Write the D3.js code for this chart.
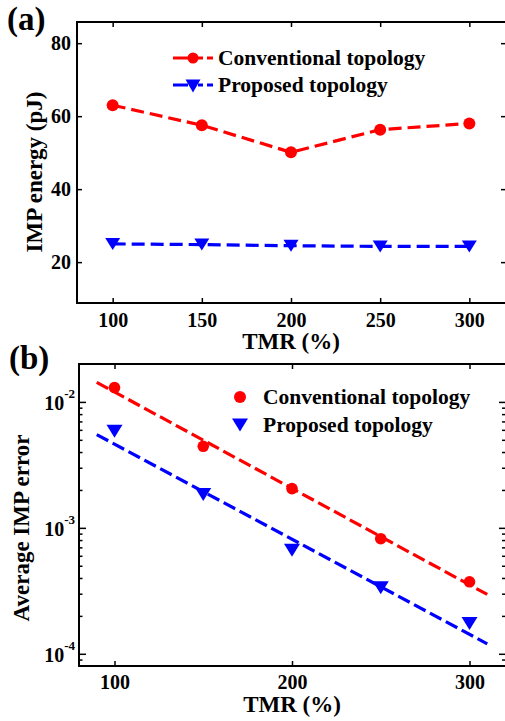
<!DOCTYPE html>
<html>
<head>
<meta charset="utf-8">
<script src="https://cdn.jsdelivr.net/npm/d3@7"></script>
<style>
body { margin: 0; background: #fff; }
svg text { font-family: "Liberation Serif", "Times New Roman", serif; font-weight: bold; fill: #000; }
</style>
</head>
<body>
<svg id="chart" width="505" height="721"></svg>
<script>
// data
var tmr = [100, 150, 200, 250, 300];
var energyConv = [63.0, 57.5, 50.1, 56.3, 58.0];
var energyProp = [25.0, 24.8, 24.5, 24.3, 24.3];
var errConv = [0.0130, 0.00444, 0.00205, 0.00082, 0.000373];
var errProp = [0.00585, 0.00184, 0.000665, 0.000334, 0.000174];
var fitTmr = [90, 310];
var fitConv = [0.0143, 0.000296];
var fitProp = [0.0055, 0.00012];
var legendNames = ["Conventional topology", "Proposed topology"];
var xTicksA = [100, 150, 200, 250, 300];
var yTicksA = [20, 40, 60, 80];
var xTicksB = [100, 200, 300];
var yTicksB = [1e-4, 1e-3, 1e-2];
var expLabels = ["-4", "-3", "-2"];

var red = "#ff0000", blue = "#0000ff";
var svg = d3.select("#chart");

function triDown(w, h) {
	return "M" + (-w / 2) + "," + (-h / 2) + "L" + (w / 2) + "," + (-h / 2) + "L0," + (h / 2) + "Z";
}

// ---------- panel (a) ----------
var xA = d3.scaleLinear().domain([80, 320]).range([77, 505]);
var yA = d3.scaleLinear().domain([8.8, 85.8]).range([303, 22]);
var gA = svg.append("g");

gA.append("rect").attr("x", 77).attr("y", 22).attr("width", 430).attr("height", 281)
	.attr("fill", "none").attr("stroke", "#000").attr("stroke-width", 2);

var axBottomA = gA.append("g").attr("transform", "translate(0,303)")
	.call(d3.axisBottom(xA).tickValues(xTicksA).tickSize(-5).tickPadding(10));
var axTopA = gA.append("g").attr("transform", "translate(0,22)")
	.call(d3.axisTop(xA).tickValues(xTicksA).tickSize(-5).tickFormat(""));
var axLeftA = gA.append("g").attr("transform", "translate(77,0)")
	.call(d3.axisLeft(yA).tickValues(yTicksA).tickSize(-5).tickPadding(6));
var axRightA = gA.append("g").attr("transform", "translate(506,0)")
	.call(d3.axisRight(yA).tickValues(yTicksA).tickSize(-5).tickFormat(""));
[axBottomA, axTopA, axLeftA, axRightA].forEach(function(a) {
	a.select(".domain").remove();
	a.selectAll(".tick line").attr("stroke", "#000").attr("stroke-width", 1.5);
	a.selectAll(".tick text").style("font-size", "20px").style("font-family", null);
});

var lineA = d3.line().x(function(d, i) { return xA(tmr[i]); }).y(function(d) { return yA(d); });
gA.append("path").datum(energyConv).attr("d", lineA).attr("fill", "none")
	.attr("stroke", red).attr("stroke-width", 3.2).attr("stroke-dasharray", "13,6");
gA.append("path").datum(energyProp).attr("d", lineA).attr("fill", "none")
	.attr("stroke", blue).attr("stroke-width", 3.2).attr("stroke-dasharray", "13,6");

gA.selectAll(".mc").data(energyConv).enter().append("circle")
	.attr("cx", function(d, i) { return xA(tmr[i]); }).attr("cy", function(d) { return yA(d); })
	.attr("r", 6).attr("fill", red);
gA.selectAll(".mt").data(energyProp).enter().append("path")
	.attr("transform", function(d, i) { return "translate(" + xA(tmr[i]) + "," + yA(d) + ")"; })
	.attr("d", triDown(15, 12)).attr("fill", blue);

// legend (a)
var legA = gA.append("g");
[red, blue].forEach(function(c, i) {
	var ly = 58 + i * 27;
	legA.append("line").attr("x1", 173).attr("x2", 213).attr("y1", ly).attr("y2", ly)
		.attr("stroke", c).attr("stroke-width", 3.2).attr("stroke-dasharray", "15,10,5,4,6");
	if (i == 0) legA.append("circle").attr("cx", 193).attr("cy", ly).attr("r", 5.5).attr("fill", c);
	else legA.append("path").attr("transform", "translate(193," + (ly + 1) + ")").attr("d", triDown(15, 13)).attr("fill", c);
	legA.append("text").attr("x", 218).attr("y", ly + 7).style("font-size", "21.5px").text(legendNames[i]);
});

gA.append("text").attr("x", 291).attr("y", 349).attr("text-anchor", "middle").style("font-size", "23px").text("TMR (%)");
gA.append("text").attr("transform", "translate(41.5,172) rotate(-90)").attr("text-anchor", "middle")
	.style("font-size", "23px").text("IMP energy (pJ)");
gA.append("text").attr("x", 7).attr("y", 30).style("font-size", "33px").text("(a)");

// ---------- panel (b) ----------
var xB = d3.scaleLinear().domain([80, 320]).range([79, 505]);
var yB = d3.scaleLog().domain([8e-5, 0.02]).range([666, 364]);
var gB = svg.append("g");

gB.append("rect").attr("x", 79).attr("y", 364).attr("width", 428).attr("height", 302)
	.attr("fill", "none").attr("stroke", "#000").attr("stroke-width", 2);

var minorB = [];
[1e-5, 1e-4, 1e-3, 1e-2].forEach(function(p) {
	for (var k = 2; k <= 9; k++) {
		var v = p * k;
		if (v > 8e-5 && v < 0.02) minorB.push(v);
	}
});

var axBottomB = gB.append("g").attr("transform", "translate(0,666)")
	.call(d3.axisBottom(xB).tickValues(xTicksB).tickSize(-5).tickPadding(9));
var axTopB = gB.append("g").attr("transform", "translate(0,364)")
	.call(d3.axisTop(xB).tickValues(xTicksB).tickSize(-5).tickFormat(""));
var axLeftB = gB.append("g").attr("transform", "translate(79,0)")
	.call(d3.axisLeft(yB).tickValues(yTicksB).tickSize(-7).tickFormat(""));
var axLeftBm = gB.append("g").attr("transform", "translate(79,0)")
	.call(d3.axisLeft(yB).tickValues(minorB).tickSize(-3.5).tickFormat(""));
var axRightB = gB.append("g").attr("transform", "translate(506,0)")
	.call(d3.axisRight(yB).tickValues(yTicksB).tickSize(-7).tickFormat(""));
var axRightBm = gB.append("g").attr("transform", "translate(506,0)")
	.call(d3.axisRight(yB).tickValues(minorB).tickSize(-4).tickFormat(""));
[axBottomB, axTopB, axLeftB, axLeftBm, axRightB, axRightBm].forEach(function(a) {
	a.select(".domain").remove();
	a.selectAll(".tick line").attr("stroke", "#000").attr("stroke-width", 1.5);
	a.selectAll(".tick text").style("font-size", "20px").style("font-family", null);
});

// exponent labels
yTicksB.forEach(function(v, i) {
	var t = gB.append("text").attr("x", 75).attr("y", yB(v) + 8).attr("text-anchor", "end").style("font-size", "20px");
	t.append("tspan").text("10");
	t.append("tspan").attr("dy", -12).style("font-size", "13px").text(expLabels[i]);
});

var fitLine = d3.line().x(function(d, i) { return xB(fitTmr[i]); }).y(function(d) { return yB(d); });
gB.append("path").datum(fitConv).attr("d", fitLine).attr("fill", "none")
	.attr("stroke", red).attr("stroke-width", 3.2).attr("stroke-dasharray", "13,5");
gB.append("path").datum(fitProp).attr("d", fitLine).attr("fill", "none")
	.attr("stroke", blue).attr("stroke-width", 3.2).attr("stroke-dasharray", "13,5");

gB.selectAll(".mc").data(errConv).enter().append("circle")
	.attr("cx", function(d, i) { return xB(tmr[i]); }).attr("cy", function(d) { return yB(d); })
	.attr("r", 5.8).attr("fill", red);
gB.selectAll(".mt").data(errProp).enter().append("path")
	.attr("transform", function(d, i) { return "translate(" + xB(tmr[i]) + "," + yB(d) + ")"; })
	.attr("d", triDown(16, 13)).attr("fill", blue);

// legend (b)
var legB = gB.append("g");
[red, blue].forEach(function(c, i) {
	var ly = 397 + i * 28;
	if (i == 0) legB.append("circle").attr("cx", 240).attr("cy", ly).attr("r", 6).attr("fill", c);
	else legB.append("path").attr("transform", "translate(240," + ly + ")").attr("d", triDown(16, 13)).attr("fill", c);
	legB.append("text").attr("x", 263).attr("y", ly + 7).style("font-size", "21.5px").text(legendNames[i]);
});

gB.append("text").attr("x", 292).attr("y", 712).attr("text-anchor", "middle").style("font-size", "23px").text("TMR (%)");
gB.append("text").attr("transform", "translate(29,528) rotate(-90)").attr("text-anchor", "middle")
	.style("font-size", "23px").text("Average IMP error");
gB.append("text").attr("x", 9).attr("y", 369).style("font-size", "33px").text("(b)");
</script>
</body>
</html>
